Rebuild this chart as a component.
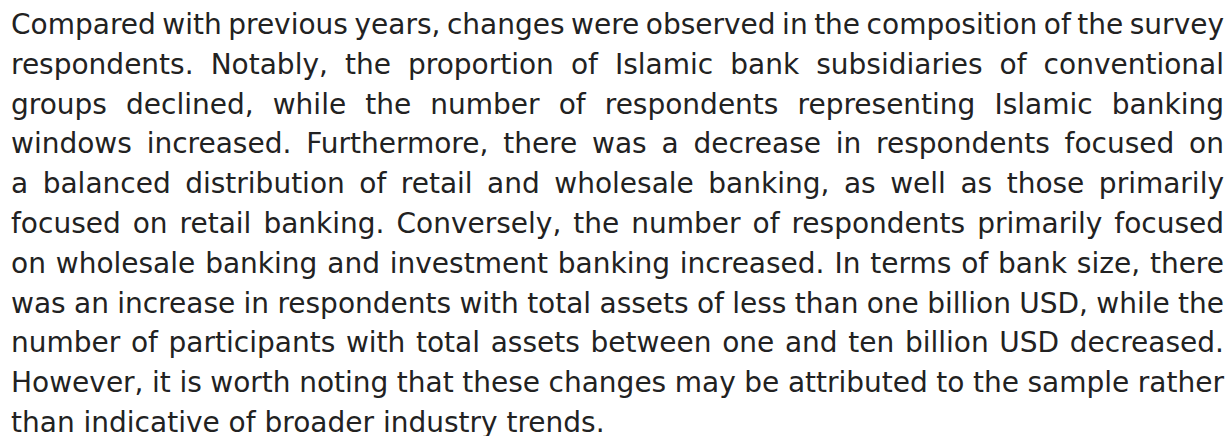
import React from "react";

const lines: string[] = [
  "Compared with previous years, changes were observed in the composition of the survey",
  "respondents. Notably, the proportion of Islamic bank subsidiaries of conventional",
  "groups declined, while the number of respondents representing Islamic banking",
  "windows increased. Furthermore, there was a decrease in respondents focused on",
  "a balanced distribution of retail and wholesale banking, as well as those primarily",
  "focused on retail banking. Conversely, the number of respondents primarily focused",
  "on wholesale banking and investment banking increased. In terms of bank size, there",
  "was an increase in respondents with total assets of less than one billion USD, while the",
  "number of participants with total assets between one and ten billion USD decreased.",
  "However, it is worth noting that these changes may be attributed to the sample rather",
  "than indicative of broader industry trends.",
];

export default function App() {
  return (
    <div
      style={{
        position: "absolute",
        left: 11,
        top: 5,
        width: 1213,
        fontFamily: "'DejaVu Sans', Verdana, sans-serif",
        fontSize: 28,
        lineHeight: "39.8px",
        color: "#222222",
        whiteSpace: "nowrap",
      }}
    >
      {lines.map((l, i) => {
        const last = i === lines.length - 1;
        return (
          <div
            key={i}
            style={{
              textAlign: "justify",
              textAlignLast: last ? "left" : "justify",
              wordSpacing: last ? 0 : -3,
            }}
          >
            {l}
          </div>
        );
      })}
    </div>
  );
}
